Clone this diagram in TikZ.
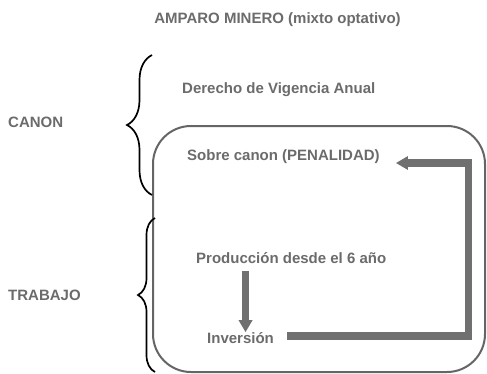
\documentclass[tikz,border=0pt]{standalone}
\usepackage{fontspec}
\setmainfont{Liberation Sans}
\usepackage{tikz}
\usetikzlibrary{arrows.meta,decorations.pathreplacing}
\definecolor{txtgray}{RGB}{107,107,107}
\definecolor{arrgray}{RGB}{112,112,112}
\tikzstyle{lbl}=[inner sep=0pt,anchor=west,text=txtgray,font=\fontsize{15}{18}\selectfont\bfseries]
\tikzstyle{curly}=[draw,line width=1.7pt,decorate]
\tikzstyle{frame}=[draw=arrgray!90!black,line width=2pt,rounded corners=38pt]

\begin{document}
\begin{tikzpicture}[x=1pt,y=-1pt]
      \tikzset{fat/.style = {draw=arrgray,line width=7.5pt,line join=miter,-{Triangle[length=12pt,width=13pt]}}}
      \useasboundingbox (0,0) rectangle (487,373);
      \node[lbl,anchor=center] (title) at (277.5,20) {AMPARO MINERO (mixto optativo)};
      \node[lbl] (canon) at (8,122) {CANON};
      \node[lbl] (trabajo) at (8,295) {TRABAJO};
      \node[lbl] (vig) at (182,90) {Derecho de Vigencia Anual};
      \node[lbl] (sobre) at (187,157) {Sobre canon (PENALIDAD)};
      \node[lbl] (prod) at (196,258) {Producción desde el 6 año};
      \node[lbl] (inv) at (207,338) {Inversión};
      \coordinate (turn) at (468.5,163);
      % box round the penalty part
      \draw[frame] (153,126) rectangle (485,372);
      % braces
      \draw[curly,decoration={brace,amplitude=25pt}] (152,195) -- (152,55);
      \draw[curly,decoration={brace,amplitude=17pt}] (155,372) -- (155,218);
      % arrows
      \draw[fat] ([xshift=5pt]inv.north |- prod.south) ++(0,-7pt) -- ([shift={(5pt,0pt)}]inv.north);
      \draw[fat] ([shift={(13pt,2pt)}]inv.east) -| (turn) -- ([shift={(16pt,-6pt)}]sobre.east);
    \end{tikzpicture}
\end{document}
